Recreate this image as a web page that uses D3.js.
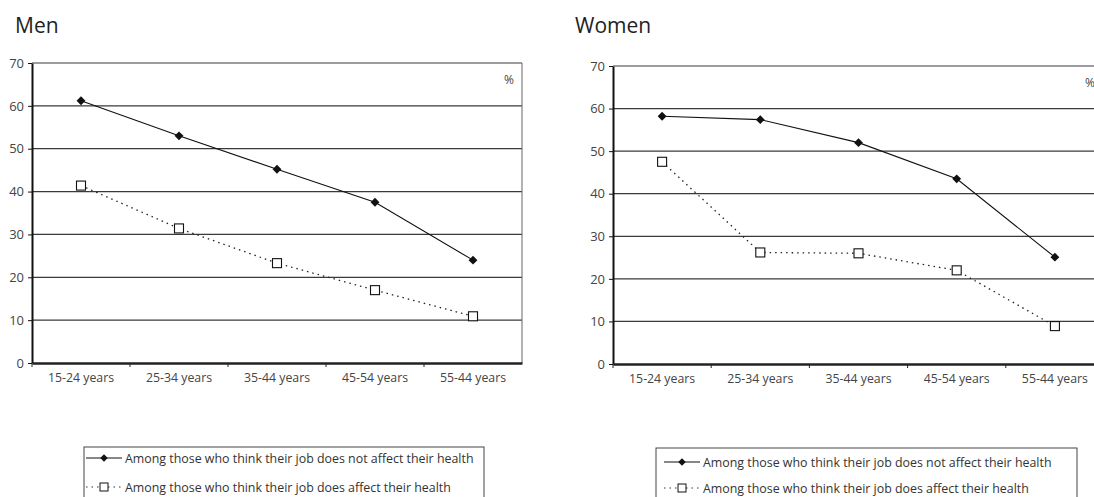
<!DOCTYPE html>
<html>
<head>
<meta charset="utf-8">
<script src="https://cdn.jsdelivr.net/npm/d3@7"></script>
<style>
  body { margin: 0; background: #fff; }
  svg { display: block; font-family: "Open Sans", sans-serif; }
</style>
</head>
<body>
<svg id="chart" width="1094" height="497"></svg>
<script>
// data
var ageGroups = ["15-24 years", "25-34 years", "35-44 years", "45-54 years", "55-44 years"]
var yTicks = [0, 10, 20, 30, 40, 50, 60, 70]
var menNotAffect = [61.2, 53.0, 45.2, 37.5, 24.0]
var menAffect = [41.4, 31.4, 23.3, 17.0, 10.9]
var womenNotAffect = [58.2, 57.4, 52.0, 43.5, 25.1]
var womenAffect = [47.5, 26.2, 26.0, 22.0, 8.9]
var seriesNames = [
    "Among those who think their job does not affect their health",
    "Among those who think their job does affect their health"
]

var svg = d3.select("#chart")

function drawPanel(opt) {
    var g = svg.append("g")

    var x = d3.scaleBand().domain(ageGroups).range([opt.left, opt.right])
    var y = d3.scaleLinear().domain([0, 70]).range([opt.bottom, opt.top])

    // title
    g.append("text")
	.attr("x", opt.titleX)
	.attr("y", 33)
	.attr("font-size", "21px")
	.attr("fill", "#222")
	.text(opt.title)

    // horizontal gridlines
    g.selectAll("line.grid")
	.data(yTicks.filter(function(d){return d > 0}))
	.enter()
	.append("line")
	.attr("class", "grid")
	.attr("x1", opt.left)
	.attr("x2", opt.right)
	.attr("y1", function(d){return y(d)})
	.attr("y2", function(d){return y(d)})
	.attr("stroke", "#3a3a3a")
	.attr("stroke-width", 1.2)

    // right border
    g.append("line")
	.attr("x1", opt.right).attr("x2", opt.right)
	.attr("y1", y(70)).attr("y2", y(0))
	.attr("stroke", "#666")

    // y axis
    var yAxis = d3.axisLeft(y).tickValues(yTicks).tickSize(4).tickSizeOuter(0)
    var ya = g.append("g")
	.attr("transform", "translate(" + opt.left + ",0)")
	.call(yAxis)
    ya.select(".domain").attr("stroke", "#111").attr("stroke-width", 2)
    ya.selectAll(".tick line").attr("stroke", "#111")
    ya.selectAll("text")
	.attr("font-family", "Open Sans, sans-serif")
	.attr("font-size", "13px")
	.attr("fill", "#444")
	.attr("x", -8)

    // x axis
    var xAxis = d3.axisBottom(x).tickSize(0).tickSizeOuter(0)
    var xa = g.append("g")
	.attr("transform", "translate(0," + opt.bottom + ")")
	.call(xAxis)
    xa.select(".domain").attr("stroke", "#222").attr("stroke-width", 2.5)
    xa.selectAll("text")
	.attr("font-family", "Open Sans, sans-serif")
	.attr("font-size", "12.3px")
	.attr("fill", "#444")
	.attr("dy", "1.3em")
    // tick marks at band boundaries
    xa.selectAll("line.sep")
	.data(ageGroups)
	.enter()
	.append("line")
	.attr("class", "sep")
	.attr("x1", function(d){return x(d)})
	.attr("x2", function(d){return x(d)})
	.attr("y1", 0)
	.attr("y2", 4)
	.attr("stroke", "#222")

    // percent sign
    g.append("text")
	.attr("x", opt.pctX)
	.attr("y", y(70) + 21)
	.attr("font-size", "12px")
	.attr("fill", "#444")
	.attr("text-anchor", "middle")
	.text("%")

    var cx = function(d,i){return x(ageGroups[i]) + x.bandwidth() / 2}
    var line = d3.line().x(cx).y(function(d){return y(d)})

    // affect series (dotted, open squares)
    g.append("path")
	.datum(opt.affect)
	.attr("d", line)
	.attr("fill", "none")
	.attr("stroke", "#222")
	.attr("stroke-width", 1.3)
	.attr("stroke-dasharray", "1.5,4")

    g.selectAll("rect.sq")
	.data(opt.affect)
	.enter()
	.append("rect")
	.attr("class", "sq")
	.attr("x", function(d,i){return cx(d,i) - 4.5})
	.attr("y", function(d){return y(d) - 4.5})
	.attr("width", 9)
	.attr("height", 9)
	.attr("fill", "#fff")
	.attr("stroke", "#111")
	.attr("stroke-width", 1.1)

    // not-affect series (solid, diamonds)
    g.append("path")
	.datum(opt.notAffect)
	.attr("d", line)
	.attr("fill", "none")
	.attr("stroke", "#111")
	.attr("stroke-width", 1.1)

    g.selectAll("path.dia")
	.data(opt.notAffect)
	.enter()
	.append("path")
	.attr("class", "dia")
	.attr("d", d3.symbol().type(d3.symbolDiamond2).size(50))
	.attr("transform", function(d,i){return "translate(" + cx(d,i) + "," + y(d) + ")"})
	.attr("fill", "#111")

    // legend
    var lg = g.append("g")
    lg.append("rect")
	.attr("x", opt.legX)
	.attr("y", opt.legY)
	.attr("width", opt.legW)
	.attr("height", 70)
	.attr("fill", "none")
	.attr("stroke", "#444")
	.attr("stroke-width", 1)

    var sx = opt.legX + opt.sampleOff
    var rowY = [opt.legY + opt.rowOff[0], opt.legY + opt.rowOff[1]]
    lg.append("line")
	.attr("x1", sx).attr("x2", sx + 36)
	.attr("y1", rowY[0]).attr("y2", rowY[0])
	.attr("stroke", "#111")
    lg.append("path")
	.attr("d", d3.symbol().type(d3.symbolDiamond2).size(36))
	.attr("transform", "translate(" + (sx + 18) + "," + rowY[0] + ")")
	.attr("fill", "#111")
    lg.append("line")
	.attr("x1", sx).attr("x2", sx + 36)
	.attr("y1", rowY[1]).attr("y2", rowY[1])
	.attr("stroke", "#333")
	.attr("stroke-dasharray", "1.5,4")
    lg.append("rect")
	.attr("x", sx + 14).attr("y", rowY[1] - 4)
	.attr("width", 8).attr("height", 8)
	.attr("fill", "#fff").attr("stroke", "#111")

    lg.selectAll("text")
	.data(seriesNames)
	.enter()
	.append("text")
	.attr("x", sx + 39)
	.attr("y", function(d,i){return rowY[i] + 4.5})
	.attr("font-size", "12.4px")
	.attr("fill", "#333")
	.text(function(d){return d})
}

drawPanel({
    title: "Men", titleX: 15,
    left: 32, right: 522, top: 63, bottom: 363,
    pctX: 509,
    notAffect: menNotAffect, affect: menAffect,
    legX: 84, legY: 447, legW: 400, sampleOff: 2, rowOff: [11, 40]
})

drawPanel({
    title: "Women", titleX: 575,
    left: 613, right: 1104, top: 66, bottom: 364,
    pctX: 1090,
    notAffect: womenNotAffect, affect: womenAffect,
    legX: 656, legY: 448, legW: 421, sampleOff: 8, rowOff: [14, 40]
})
</script>
</body>
</html>
